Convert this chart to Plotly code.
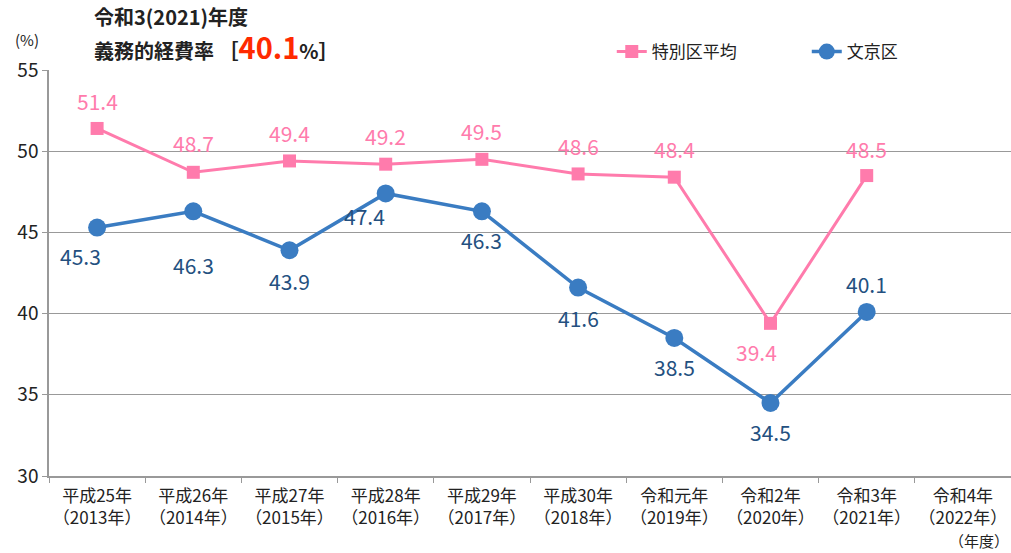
import plotly.graph_objects as go

categories = ["平成25年<br>（2013年）", "平成26年<br>（2014年）", "平成27年<br>（2015年）",
              "平成28年<br>（2016年）", "平成29年<br>（2017年）", "平成30年<br>（2018年）",
              "令和元年<br>（2019年）", "令和2年<br>（2020年）", "令和3年<br>（2021年）",
              "令和4年<br>（2022年）"]
tokubetsu = [51.4, 48.7, 49.4, 49.2, 49.5, 48.6, 48.4, 39.4, 48.5, None]
bunkyo = [45.3, 46.3, 43.9, 47.4, 46.3, 41.6, 38.5, 34.5, 40.1, None]

# label offsets (pixels) for the data labels
pink_dx = [0, 0, 0, 0, 0, 0, 0, -14, 0, 0]
pink_dy = [27, 29, 28, 28, 28, 28, 28, -29, 27, 0]
blue_dx = [-17, 0, 0, -21, 0, 0, 0, 0, 0, 0]
blue_dy = [-28, -54, -31, -23, -29, -30, -29, -29, 28, 0]

FONT = "Noto Sans CJK JP"
PINK = "#FF7BAC"
BLUE = "#3A7CC2"
BLUE_TXT = "#24507F"

fig = go.Figure()
fig.add_trace(go.Scatter(
    x=categories, y=tokubetsu, name="特別区平均", mode="lines+markers",
    line=dict(color=PINK, width=3), marker=dict(symbol="square", size=13, color=PINK),
    cliponaxis=False))
fig.add_trace(go.Scatter(
    x=categories, y=bunkyo, name="文京区", mode="lines+markers",
    line=dict(color=BLUE, width=3.5), marker=dict(symbol="circle", size=18, color=BLUE),
    cliponaxis=False))

for vals, dxs, dys, col in ((tokubetsu, pink_dx, pink_dy, PINK), (bunkyo, blue_dx, blue_dy, BLUE_TXT)):
    for c, v, dx, dy in zip(categories, vals, dxs, dys):
        if v is None:
            continue
        fig.add_annotation(x=c, y=v, text=f"{v:.1f}", showarrow=False,
                           xshift=dx, yshift=dy,
                           font=dict(family=FONT, size=21, color=col))

fig.update_layout(
    width=1011, height=553,
    margin=dict(l=49, r=0, t=70, b=77, autoexpand=False),
    plot_bgcolor="white", paper_bgcolor="white",
    font=dict(family=FONT, color="#222222"),
    showlegend=True,
    legend=dict(orientation="h", x=0.585, y=1.0, xanchor="left", yanchor="bottom",
                font=dict(family=FONT, size=17, color="#222222"),
                bgcolor="rgba(0,0,0,0)", entrywidthmode="pixels", entrywidth=150),
    xaxis=dict(type="category", range=[-0.5, 9.5], showgrid=False, automargin=False,
               showline=True, linecolor="#999999", linewidth=1.5, tickangle=0,
               ticks="outside", tickson="boundaries", ticklen=5, tickcolor="#999999",
               ticklabelstandoff=4,
               tickfont=dict(family=FONT, size=17, color="#222222")),
    yaxis=dict(range=[30, 55], dtick=5, showgrid=True, gridcolor="#999999", gridwidth=1,
               showline=True, linecolor="#999999", linewidth=1.5, automargin=False,
               ticks="outside", ticklen=5, tickcolor="#999999",
               tickfont=dict(family=FONT, size=19, color="#222222"), zeroline=False),
)

fig.add_annotation(xref="paper", yref="paper", x=0.045, y=1.0, xanchor="left", yanchor="bottom",
                   yshift=37, showarrow=False, align="left",
                   text="<b>令和3(2021)年度</b>",
                   font=dict(family=FONT, size=20, color="#222222"))
fig.add_annotation(xref="paper", yref="paper", x=0.045, y=1.0, xanchor="left", yanchor="bottom",
                   yshift=1, showarrow=False, align="left",
                   text="<b>義務的経費率 ［<span style='color:#FF2A00;font-size:29px'>40.1</span>%］</b>",
                   font=dict(family=FONT, size=20, color="#222222"))
fig.add_annotation(xref="paper", yref="paper", x=-0.023, y=1.0, xanchor="center", yanchor="bottom",
                   yshift=18, showarrow=False, text="(%)",
                   font=dict(family=FONT, size=15, color="#222222"))
fig.add_annotation(xref="paper", yref="paper", x=1.0, y=0, xanchor="right", yanchor="top",
                   yshift=-52, showarrow=False, text="（年度）",
                   font=dict(family=FONT, size=15, color="#222222"))

fig.write_html("out.html", config={"displayModeBar": False},
               post_script="document.body.style.margin='0';document.body.style.overflow='hidden';")
